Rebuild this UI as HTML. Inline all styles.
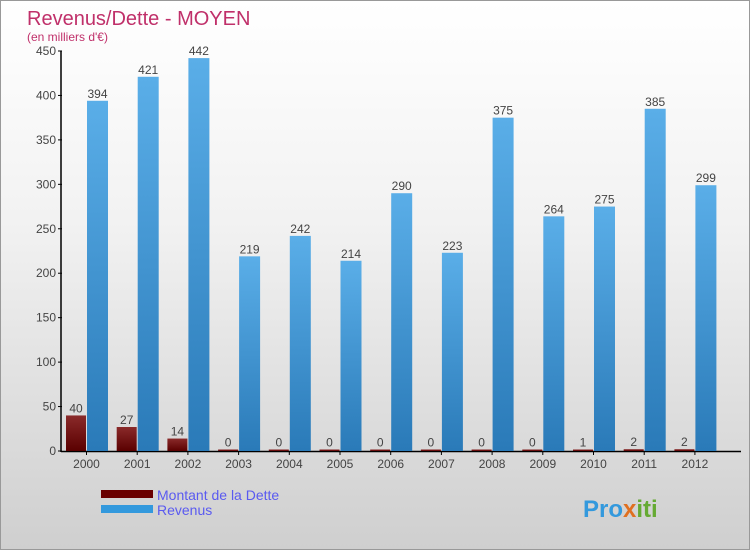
<!DOCTYPE html>
<html><head><meta charset="utf-8"><style>
body{margin:0}
#c{width:750px;height:550px;position:relative;background:linear-gradient(#ffffff,#f2f2f2 40%,#cfcfcf);border:1px solid #999;box-sizing:border-box;font-family:"Liberation Sans",sans-serif;overflow:hidden}
</style></head><body>
<div id="c">
<svg width="750" height="550" id="s">
<defs>
<linearGradient id="gd" x1="0" y1="0" x2="0" y2="1"><stop offset="0" stop-color="#8a2a2a"/><stop offset="1" stop-color="#5a0000"/></linearGradient>
<linearGradient id="gr" x1="0" y1="0" x2="0" y2="1"><stop offset="0" stop-color="#5aaee8"/><stop offset="1" stop-color="#2a7ab8"/></linearGradient>
</defs>
<text x="26" y="24" font-size="20" fill="#c0306a">Revenus/Dette - MOYEN</text>
<text x="26" y="40" font-size="12" fill="#c0306a">(en milliers d'€)</text>
<g id="g"></g>
<rect x="100" y="489" width="52" height="8" fill="#6a0000"/>
<text x="156" y="499" font-size="14" fill="#5a5af0">Montant de la Dette</text>
<rect x="100" y="504" width="52" height="8" fill="#3399dd"/>
<text x="156" y="514" font-size="14" fill="#5a5af0">Revenus</text>
<text x="582" y="516" font-size="24" font-weight="bold" fill="#3399dd">Pro<tspan fill="#e07020">x</tspan><tspan fill="#66aa33">iti</tspan></text>
</svg>
</div>
<script>
const years=["2000","2001","2002","2003","2004","2005","2006","2007","2008","2009","2010","2011","2012"];
const dette=[40,27,14,0,0,0,0,0,0,0,1,2,2];
const revenus=[394,421,442,219,242,214,290,223,375,264,275,385,299];
const ticks=[0,50,100,150,200,250,300,350,400,450];
const NS="http://www.w3.org/2000/svg",g=document.getElementById('g');
const y0=450,sc=400/450,x0=65,step=50.7;
const Y=v=>y0-v*sc, X=i=>x0+i*step;
function mk(t,a,txt){const e=document.createElementNS(NS,t);for(const k in a)e.setAttribute(k,a[k]);if(txt!==undefined)e.textContent=txt;g.appendChild(e);return e;}
let ax=mk('line',{x1:60,y1:50,x2:60,y2:451,stroke:'#000','stroke-width':1.5});


let bx=mk('line',{x1:60,y1:450.5,x2:740,y2:450.5,stroke:'#000','stroke-width':1.5});


ticks.forEach(t=>{
 mk('line',{x1:57,x2:61,y1:Y(t),y2:Y(t),stroke:'#000'});
 const l=mk('text',{x:55,y:Y(t)+4,'font-size':12,'text-anchor':'end',fill:'#444'},t);
 
 
});
years.forEach((yr,i)=>{
 const x=X(i);
 const hd=Math.max(dette[i]*sc,1.5);
 const d=mk('rect',{x:x,y:y0-hd,width:20,height:hd,fill:'url(#gd)'});
 
 
 const r=mk('rect',{x:x+21,y:Y(revenus[i]),width:21,height:revenus[i]*sc,fill:'url(#gr)'});
 
 
 const t1=mk('text',{x:x+10,y:y0-hd-3,'font-size':12,'text-anchor':'middle',fill:'#444'},dette[i]);
 
 
 const t2=mk('text',{x:x+31.5,y:Y(revenus[i])-3,'font-size':12,'text-anchor':'middle',fill:'#444'},revenus[i]);
 
 
 mk('line',{x1:x+20.5,x2:x+20.5,y1:450,y2:454,stroke:'#000'});
 const xl=mk('text',{x:x+20.5,y:467,'font-size':12,'text-anchor':'middle',fill:'#444'},yr);
 
 
});
</script>
</body></html>
